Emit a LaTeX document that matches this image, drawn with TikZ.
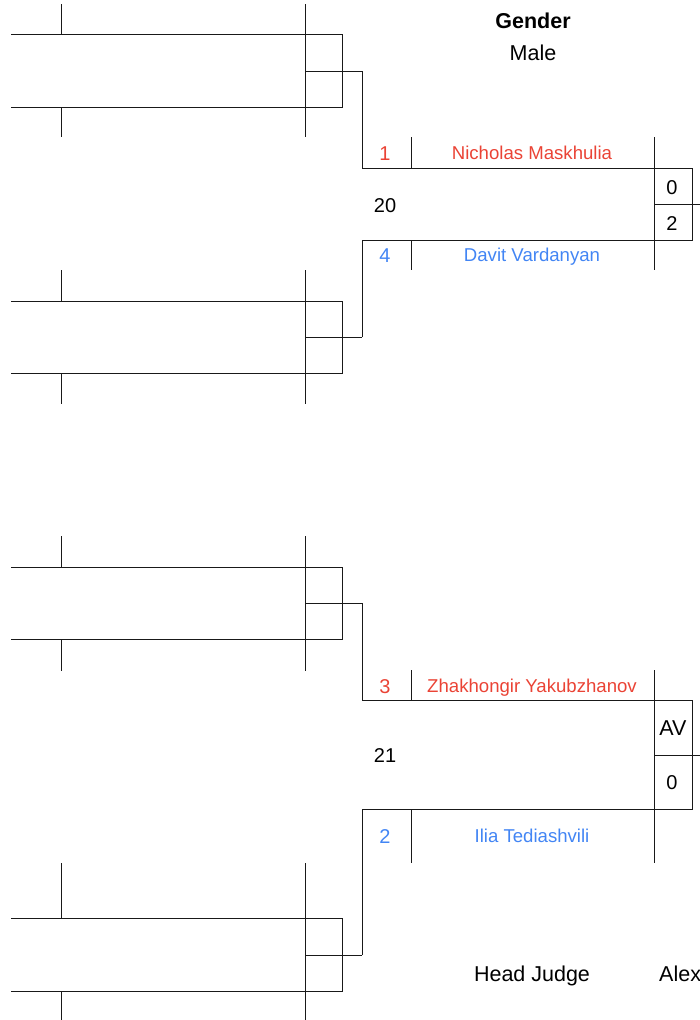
\documentclass[tikz,border=0pt]{standalone}
\usepackage{fontspec}
\setmainfont{Liberation Sans}
\definecolor{seedred}{RGB}{234,67,53}
\definecolor{seedblue}{RGB}{66,133,244}
\tikzset{
  br/.style={line width=1pt, draw=black!90},
  capnode/.style={inner sep=0pt, text depth=0pt},
  hdr/.style={capnode, font=\fontsize{21.5}{24}\selectfont, text height=15.4pt},
  nm/.style={capnode, font=\fontsize{18.6}{22}\selectfont, text height=13.3pt},
  num/.style={capnode, font=\fontsize{20}{24}\selectfont, text height=14.3pt},
}
\begin{document}
\begin{tikzpicture}[x=1pt,y=-1pt]
\useasboundingbox (0,0) rectangle (700,1020);
% left pair groups: T, M, B, tick top, tick bottom
\foreach \T/\M/\B/\tt/\tb in {34/71/107/4/137, 301/337/373/270/404, 567/603/639/536/671, 918/955/991/863/1020}{
  \draw[br] (11,\T) -- (342,\T) -- (342,\B) -- (11,\B);
  \draw[br] (305,\M) -- (362,\M);
  \draw[br] (61,\tt) -- (61,\T);
  \draw[br] (61,\B) -- (61,\tb);
  \draw[br] (305,\tt) -- (305,\tb);
}
% match 20
\coordinate (a1) at (362,71);
\coordinate (a2) at (362,337);
\coordinate (m20t) at (362,168);
\coordinate (m20b) at (362,240);
\draw[br] (a1) -- (m20t) -- (654,168);
\draw[br] (a2) -- (m20b) -- (654,240);
\draw[br] (654,168) rectangle (692,240);
\draw[br] (654,204) -- (700,204);
\draw[br] (411,137) -- (411,168);
\draw[br] (411,240) -- (411,270);
\draw[br] (654,137) -- (654,270);
% match 21
\coordinate (b1) at (362,603);
\coordinate (b2) at (362,955);
\coordinate (m21t) at (362,700);
\coordinate (m21b) at (362,809);
\draw[br] (b1) -- (m21t) -- (654,700);
\draw[br] (b2) -- (m21b) -- (654,809);
\draw[br] (654,700) rectangle (692,809);
\draw[br] (654,755) -- (700,755);
\draw[br] (411,670) -- (411,700);
\draw[br] (411,809) -- (411,863);
\draw[br] (654,670) -- (654,863);
% texts
\node[hdr, font=\bfseries\fontsize{21.5}{24}\selectfont] (gender) at (533,20.5) {Gender};
\node[hdr] (male) at (533,53) {Male};
\node[num, text=seedred] (s1) at (385,153) {1};
\node[nm, text=seedred] (n1) at (532,153) {Nicholas Maskhulia};
\node[num] (f20) at (385,205) {20};
\node[num] (sc1) at (672,187) {0};
\node[num] (sc2) at (672,223.5) {2};
\node[num, text=seedblue] (s4) at (385,255) {4};
\node[nm, text=seedblue] (n4) at (532,255) {Davit Vardanyan};
\node[num, text=seedred] (s3) at (385,686) {3};
\node[nm, text=seedred] (n3) at (532,686) {Zhakhongir Yakubzhanov};
\node[num] (f21) at (385,755) {21};
\node[hdr] (sc3) at (673,727.5) {AV};
\node[num] (sc4) at (672,782) {0};
\node[num, text=seedblue] (s2) at (385,836.5) {2};
\node[nm, text=seedblue] (n2) at (532,836) {Ilia Tediashvili};
\node[hdr] (hj) at (532,973.5) {Head Judge};
\node[hdr, anchor=west] (alex) at (659,973.5) {Alex};
\end{tikzpicture}
\end{document}
